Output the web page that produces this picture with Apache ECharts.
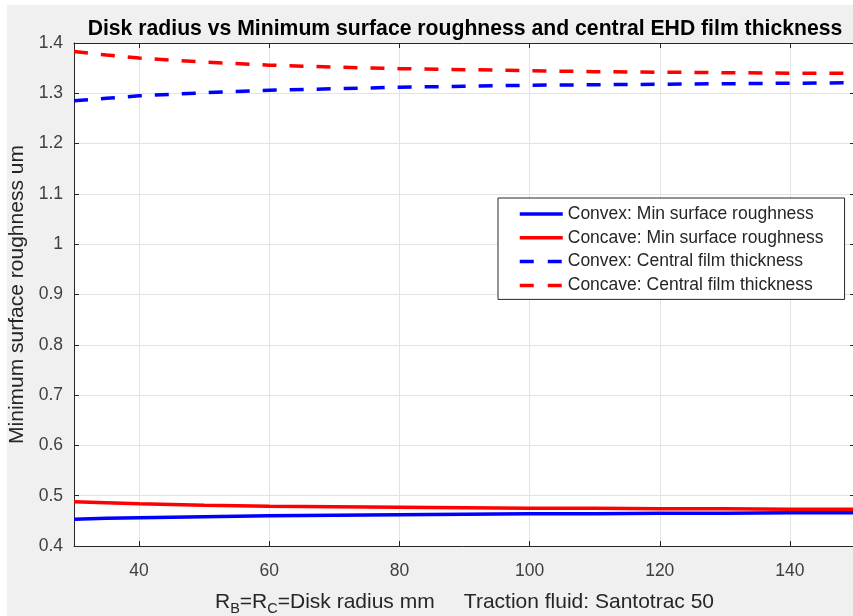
<!DOCTYPE html>
<html>
<head>
<meta charset="utf-8">
<script src="https://cdn.jsdelivr.net/npm/echarts@6/dist/echarts.min.js"></script>
<style>
  html, body { margin: 0; padding: 0; background: #fff; }
  #chart { position: absolute; left: 7px; top: 5px; width: 846px; height: 611px; }
</style>
</head>
<body>
<div id="chart"></div>
<script>
// disk radius (mm)
const radius = [30, 35, 40, 50, 60, 70, 80, 90, 100, 110, 120, 130, 140, 150]

// min surface roughness (um)
const convexRough = [0.453, 0.455, 0.456, 0.458, 0.460, 0.461, 0.462, 0.463, 0.464, 0.464, 0.465, 0.465, 0.466, 0.466]
const concaveRough = [0.488, 0.486, 0.484, 0.481, 0.479, 0.478, 0.477, 0.476, 0.475, 0.475, 0.474, 0.474, 0.473, 0.473]

// central EHD film thickness (um)
const convexFilm = [1.285, 1.290, 1.295, 1.301, 1.306, 1.309, 1.312, 1.314, 1.316, 1.317, 1.318, 1.319, 1.320, 1.321]
const concaveFilm = [1.383, 1.376, 1.370, 1.362, 1.356, 1.352, 1.349, 1.347, 1.345, 1.343, 1.342, 1.341, 1.340, 1.340]

const seriesNames = [
  'Convex: Min surface roughness',
  'Concave: Min surface roughness',
  'Convex: Central film thickness',
  'Concave: Central film thickness'
]

const xTicks = [40, 60, 80, 100, 120, 140]

const FONT = 'Arial, "Liberation Sans", Helvetica, sans-serif'
const AXIS_COLOR = '#262626'
const LABEL_COLOR = '#404040'
const GRID_COLOR = '#e3e3e3'
const DASH = [14, 13]

const pairs = ys => radius.map((r, i) => [r, ys[i]])

const chart = echarts.init(document.getElementById('chart'))

const lineSeries = (name, ys, color, dashed) => ({
  name,
  type: 'line',
  data: pairs(ys),
  symbol: 'none',
  smooth: false,
  lineStyle: { color, width: 3.5, type: dashed ? DASH : 'solid' },
  itemStyle: { color },
  emphasis: { disabled: true }
})

// 범례 아이콘은 선만 보이게 (심볼 숨김)
const legendItem = (name, dashed) => ({
  name,
  itemStyle: { opacity: 0 },
  lineStyle: { width: 3.5, type: dashed ? [14, 14] : 'solid' }
})

chart.setOption({
  backgroundColor: '#f0f0f0',
  animation: false,
  textStyle: { fontFamily: FONT },
  title: {
    text: 'Disk radius vs Minimum surface roughness and central EHD film thickness',
    left: 453,
    top: 9,
    textAlign: 'center',
    textStyle: { fontSize: 21.2, fontWeight: 'bold', color: '#000', fontFamily: FONT }
  },
  legend: {
    orient: 'vertical',
    left: 491,
    top: 193,
    padding: [7, 21, 5, 20],
    itemWidth: 43,
    itemHeight: 14,
    itemGap: 5.8,
    backgroundColor: '#fff',
    borderColor: AXIS_COLOR,
    borderWidth: 1,
    borderRadius: 0,
    data: seriesNames.map((n, i) => legendItem(n, i >= 2)),
    textStyle: { fontSize: 17.5, color: AXIS_COLOR, fontFamily: FONT }
  },
  grid: {
    left: 67,
    right: -2,
    top: 38,
    bottom: 70,
    containLabel: false,
    outerBoundsMode: 'none',
    show: true,
    backgroundColor: '#fff',
    borderWidth: 0
  },
  xAxis: [
    {
      type: 'value',
      min: 30,
      max: 150,
      position: 'bottom',
      name: '{n|R}{s|B}{n|=R}{s|C}{n|=Disk radius mm     Traction fluid: Santotrac 50}',
      nameLocation: 'middle',
      nameGap: 42,
      nameTextStyle: {
        rich: {
          n: { fontSize: 21, color: AXIS_COLOR, fontFamily: FONT },
          s: { fontSize: 14.5, color: AXIS_COLOR, fontFamily: FONT, padding: [13, 0, 0, 0] }
        }
      },
      axisLine: { show: true, lineStyle: { color: AXIS_COLOR, width: 1 } },
      axisTick: { show: true, inside: true, length: 5, customValues: xTicks, lineStyle: { color: AXIS_COLOR } },
      axisLabel: { customValues: xTicks, fontSize: 17.5, color: LABEL_COLOR, margin: 16, fontFamily: FONT },
      splitLine: { show: true, lineStyle: { color: GRID_COLOR, width: 1 } }
    },
    {
      type: 'value',
      min: 30,
      max: 150,
      position: 'top',
      axisLine: { show: true, onZero: false, lineStyle: { color: AXIS_COLOR, width: 1 } },
      axisTick: { show: true, inside: true, length: 5, customValues: xTicks, lineStyle: { color: AXIS_COLOR } },
      axisLabel: { show: false },
      splitLine: { show: false }
    }
  ],
  yAxis: [
    {
      type: 'value',
      min: 0.4,
      max: 1.4,
      interval: 0.1,
      position: 'left',
      name: 'Minimum surface roughness um',
      nameLocation: 'middle',
      nameGap: 43,
      nameTextStyle: { fontSize: 21, color: AXIS_COLOR, fontFamily: FONT },
      axisLine: { show: true, lineStyle: { color: AXIS_COLOR, width: 1 } },
      axisTick: { show: true, inside: true, length: 5, lineStyle: { color: AXIS_COLOR } },
      axisLabel: {
        fontSize: 17.5,
        color: LABEL_COLOR,
        margin: 11,
        fontFamily: FONT,
        formatter: v => String(Math.round(v * 10) / 10)
      },
      splitLine: { show: true, lineStyle: { color: GRID_COLOR, width: 1 } }
    },
    {
      type: 'value',
      min: 0.4,
      max: 1.4,
      interval: 0.1,
      position: 'right',
      axisLine: { show: true, lineStyle: { color: AXIS_COLOR, width: 1 } },
      axisTick: { show: true, inside: true, length: 5, lineStyle: { color: AXIS_COLOR } },
      axisLabel: { show: false },
      splitLine: { show: false }
    }
  ],
  series: [
    lineSeries(seriesNames[0], convexRough, '#0000ff', false),
    lineSeries(seriesNames[1], concaveRough, '#ff0000', false),
    lineSeries(seriesNames[2], convexFilm, '#0000ff', true),
    lineSeries(seriesNames[3], concaveFilm, '#ff0000', true)
  ]
})

window.addEventListener('resize', () => chart.resize())
</script>
</body>
</html>
